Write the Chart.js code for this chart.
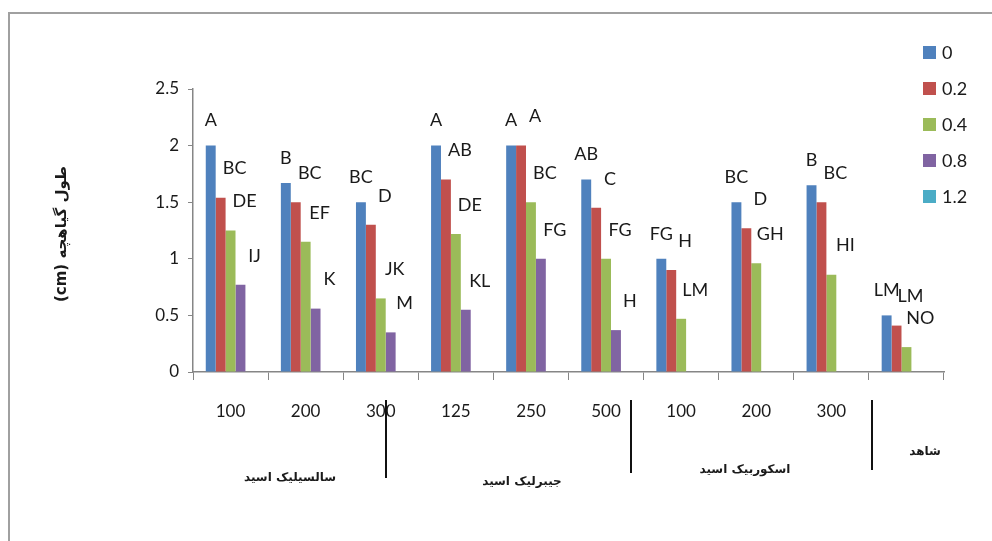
<!DOCTYPE html>
<html>
<head>
<meta charset="utf-8">
<script src="https://cdn.jsdelivr.net/npm/chart.js@4/dist/chart.umd.min.js"></script>
<style>
  html, body { margin: 0; padding: 0; background: #fff; }
  #wrap { width: 992px; height: 541px; position: relative; }
</style>
</head>
<body>
<div id="wrap"><canvas id="chart"></canvas></div>
<script>
// Category labels (treatment concentrations)
const groups = ['100', '200', '300', '125', '250', '500', '100', '200', '300', ''];
const seriesNames = ['0', '0.2', '0.4', '0.8', '1.2'];

// Seedling length (cm) per series
const s0 = [2.0, 1.67, 1.5, 2.0, 2.0, 1.7, 1.0, 1.5, 1.65, 0.5];
const s02 = [1.54, 1.5, 1.3, 1.7, 2.0, 1.45, 0.9, 1.27, 1.5, 0.41];
const s04 = [1.25, 1.15, 0.65, 1.22, 1.5, 1.0, 0.47, 0.96, 0.86, 0.22];
const s08 = [0.77, 0.56, 0.35, 0.55, 1.0, 0.37, null, null, null, null];
const s12 = [null, null, null, null, null, null, null, null, null, null];

// Significance letters per series
const l0 = ['A', 'B', 'BC', 'A', 'A', 'AB', 'FG', 'BC', 'B', 'LM'];
const l02 = ['BC', 'BC', 'D', 'AB', 'A', 'C', 'H', 'D', 'BC', 'LM'];
const l04 = ['DE', 'EF', 'JK', 'DE', 'BC', 'FG', 'LM', 'GH', 'HI', 'NO'];
const l08 = ['IJ', 'K', 'M', 'KL', 'FG', 'H', '', '', '', ''];
const l12 = ['', '', '', '', '', '', '', '', '', ''];

const yTicks = [0, 0.5, 1, 1.5, 2, 2.5];
const groupTitles = ['سالسیلیک اسید', 'جیبرلیک اسید', 'اسکوربیک اسید', 'شاهد'];
const yTitle = 'طول گیاهچه (cm)';

const colors = ['#4F81BD', '#C0504D', '#9BBB59', '#8064A2', '#4BACC6'];
const allData = [s0, s02, s04, s08, s12];
const allLetters = [l0, l02, l04, l08, l12];
const axisColor = '#868686';
const textColor = '#1a1a1a';
const font = 'Lato';

const extras = {
  id: 'extras',
  afterDraw(chart) {
    const ctx = chart.ctx;
    ctx.save();

    // letters above bars
    ctx.fillStyle = textColor;
    ctx.font = '18px ' + font;
    ctx.textAlign = 'center';
    ctx.textBaseline = 'middle';
    chart.data.datasets.forEach((ds, di) => {
      const meta = chart.getDatasetMeta(di);
      meta.data.forEach((bar, i) => {
        const txt = allLetters[di][i];
        if (!txt || ds.data[i] == null) return;
        const dx = di === 0 ? 0 : 14;
        const dy = di === 0 ? -25 : -29;
        ctx.fillText(txt, bar.x + dx, bar.y + dy);
      });
    });

    // legend
    ctx.textAlign = 'left';
    chart.data.datasets.forEach((ds, i) => {
      const y = 53 + i * 36;
      ctx.fillStyle = ds.backgroundColor;
      ctx.fillRect(923, y - 7, 13, 13);
      ctx.fillStyle = textColor;
      ctx.fillText(ds.label, 942, y);
    });

    // y axis title
    ctx.save();
    ctx.translate(62, 234);
    ctx.rotate(-Math.PI / 2);
    ctx.direction = 'rtl';
    ctx.textAlign = 'center';
    ctx.font = 'bold 15px "DejaVu Sans"';
    ctx.fillText(yTitle, 0, 0);
    ctx.restore();

    // group titles and separators
    ctx.direction = 'rtl';
    ctx.textAlign = 'center';
    ctx.font = 'bold 12px "DejaVu Sans"';
    ctx.fillText(groupTitles[0], 290, 478);
    ctx.fillText(groupTitles[1], 522, 482);
    ctx.fillText(groupTitles[2], 745, 470);
    ctx.fillText(groupTitles[3], 925, 452);

    ctx.strokeStyle = '#111';
    ctx.lineWidth = 2;
    [[386, 400, 478], [631, 400, 473], [872, 400, 470]].forEach(l => {
      ctx.beginPath();
      ctx.moveTo(l[0], l[1]);
      ctx.lineTo(l[0], l[2]);
      ctx.stroke();
    });

    // outer frame
    ctx.strokeStyle = '#a0a0a0';
    ctx.lineWidth = 2;
    ctx.beginPath();
    ctx.moveTo(9, 541);
    ctx.lineTo(9, 13);
    ctx.lineTo(992, 13);
    ctx.stroke();

    ctx.restore();
  }
};

new Chart(document.getElementById('chart'), {
  type: 'bar',
  data: {
    labels: groups,
    datasets: allData.map((d, i) => ({
      label: seriesNames[i],
      data: d,
      backgroundColor: colors[i],
      categoryPercentage: 0.66,
      barPercentage: 1.0
    }))
  },
  options: {
    responsive: true,
    maintainAspectRatio: false,
    animation: false,
    layout: { padding: { top: 89, right: 48, left: 0, bottom: 0 } },
    plugins: {
      legend: { display: false },
      tooltip: { enabled: false }
    },
    scales: {
      x: {
        afterFit(s) { s.height = 169; },
        grid: { offset: true, drawOnChartArea: false, tickLength: 8, color: axisColor },
        border: { color: axisColor, width: 1.5 },
        ticks: { color: textColor, padding: 21, maxRotation: 0, autoSkip: false, font: { family: font, size: 17 } }
      },
      y: {
        min: 0,
        max: 2.5,
        afterFit(s) { s.width = 193; },
        afterBuildTicks(s) { s.ticks = yTicks.map(v => ({ value: v })); },
        grid: { drawOnChartArea: false, tickLength: 5, color: axisColor },
        border: { color: axisColor, width: 1.5 },
        ticks: {
          color: textColor,
          padding: 9,
          font: { family: font, size: 17 },
          callback: v => String(v)
        }
      }
    }
  },
  plugins: [extras]
});
</script>
</body>
</html>
